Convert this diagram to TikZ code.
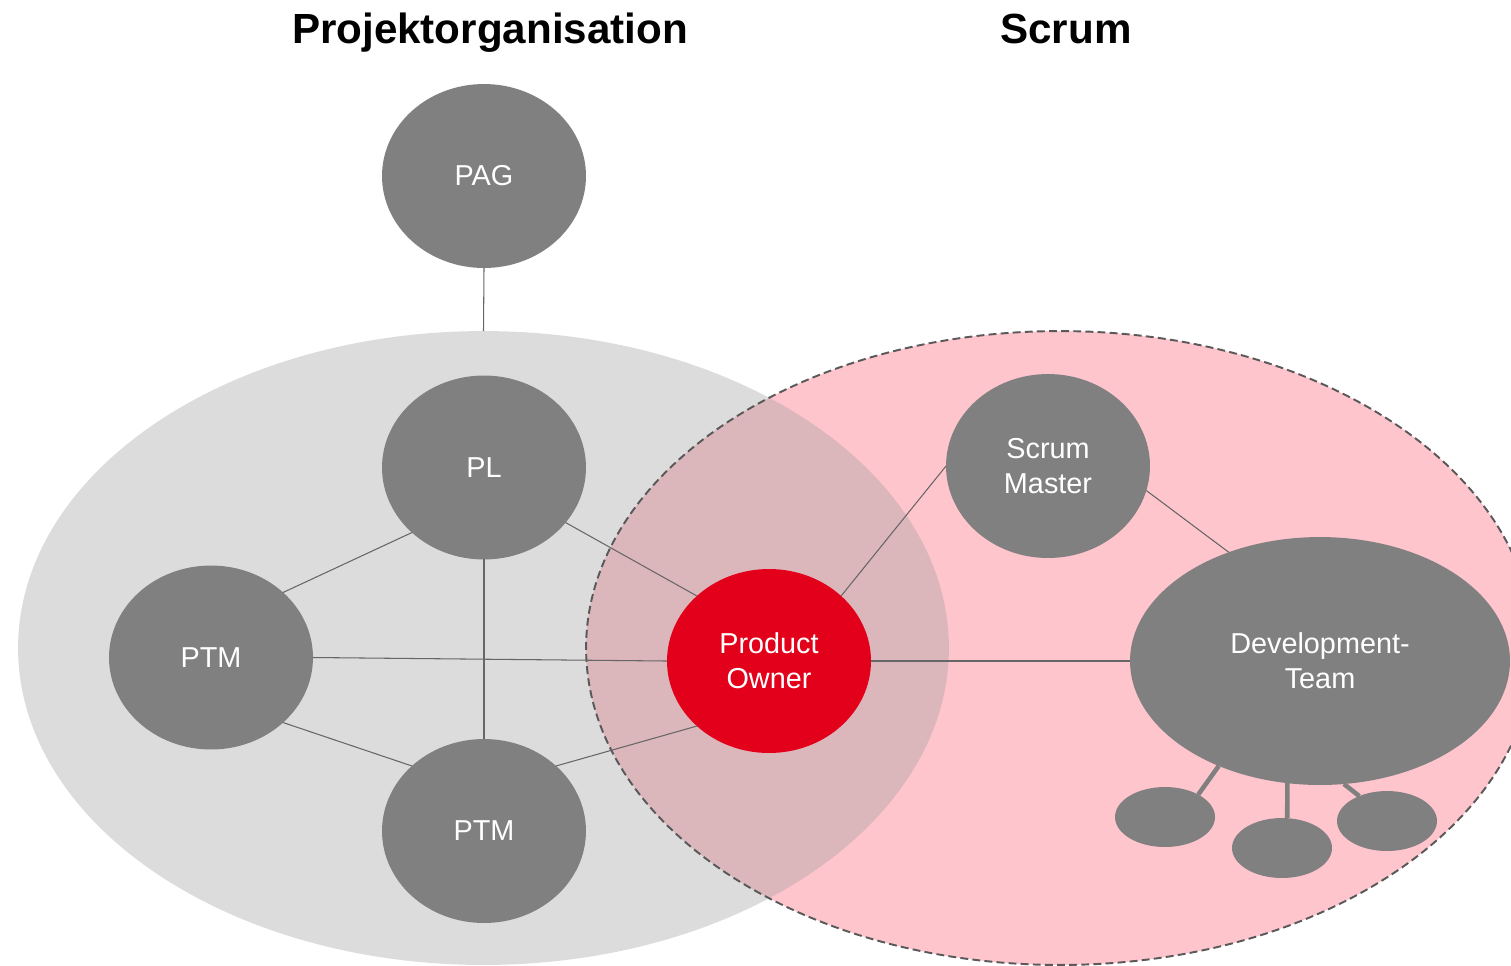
\documentclass[tikz,border=0pt]{standalone}
\usepackage{fontspec}
\setmainfont{Liberation Sans}
\usetikzlibrary{shapes.geometric}
\definecolor{nodegray}{HTML}{808080}
\definecolor{orgfill}{HTML}{A0A0A0}
\definecolor{scrumpink}{HTML}{FFC5CD}
\definecolor{poRed}{HTML}{E2001A}
\definecolor{linegray}{HTML}{666666}
\definecolor{dashgray}{HTML}{595959}
\tikzset{
  role/.style={ellipse, fill=nodegray, inner sep=0pt, outer sep=0pt,
    minimum width=4.08cm, minimum height=3.68cm, text=white,
    align=center, font=\fontsize{16.4}{20}\selectfont},
  member/.style={ellipse, fill=nodegray, inner sep=0pt, outer sep=0pt,
    minimum width=2cm, minimum height=1.2cm},
  conn/.style={draw=linegray, line width=0.6pt},
  sub/.style={draw=nodegray, line width=2.6pt},
  titletext/.style={font=\fontsize{24}{29}\selectfont\bfseries, anchor=base}
}
\begin{document}
\begin{tikzpicture}[x=0.02cm, y=-0.02cm]
\useasboundingbox (0,0) rectangle (1511,965);
\clip (0,0) rectangle (1511,965);
% big areas
\node[ellipse, fill=scrumpink, inner sep=0pt, outer sep=0pt,
  minimum width=18.96cm, minimum height=12.68cm] (scrum) at (1060,648) {};
\node[ellipse, fill=orgfill, fill opacity=0.368, inner sep=0pt, outer sep=0pt,
  minimum width=18.62cm, minimum height=12.68cm] (org) at (483.5,648) {};
\draw[dashgray, line width=1.1pt, dash pattern=on 4.5pt off 2.4pt]
  (scrum.center) ellipse [x radius=9.48cm, y radius=6.34cm];
% titles
\node[titletext] (t1) at (490,43) {Projektorganisation};
\node[titletext] (t2) at (1066,43) {Scrum};
% role nodes
\node[role] (pag) at (484,176) {PAG};
\node[role] (pl) at (484,467.5) {PL};
\node[role] (ptml) at (211,657.5) {PTM};
\node[role] (ptmb) at (484,831) {PTM};
\node[role, fill=poRed] (po) at (769,661) {Product\\Owner};
\node[role] (sm) at (1048,466) {Scrum\\Master};
\node[role, minimum width=7.6cm, minimum height=4.96cm] (dev) at (1320,661) {Development-\\Team};
\node[member] (s1) at (1165,817) {};
\node[member] (s2) at (1282,848) {};
\node[member] (s3) at (1387,821) {};
% connectors
\draw[conn] (pag.south) -- (org.north);
\draw[conn] (pl.south west) -- (ptml.north east);
\draw[conn] (pl.south) -- (ptmb.north);
\draw[conn] (pl.-34) -- (po.north west);
\draw[conn] (ptml.east) -- (po.west);
\draw[conn] (ptml.south east) -- (ptmb.north west);
\draw[conn] (ptmb.north east) -- (po.south west);
\draw[conn] (po.north east) -- (sm.west);
\draw[conn] (po.east) -- (dev.west);
\draw[conn] (sm.-14) -- (dev.130);
\draw[sub] (dev.226) -- (s1.34.5);
\draw[sub] (dev.255) -- (s2.80);
\draw[sub] (dev.281) -- (s3.138);
\end{tikzpicture}
\end{document}
